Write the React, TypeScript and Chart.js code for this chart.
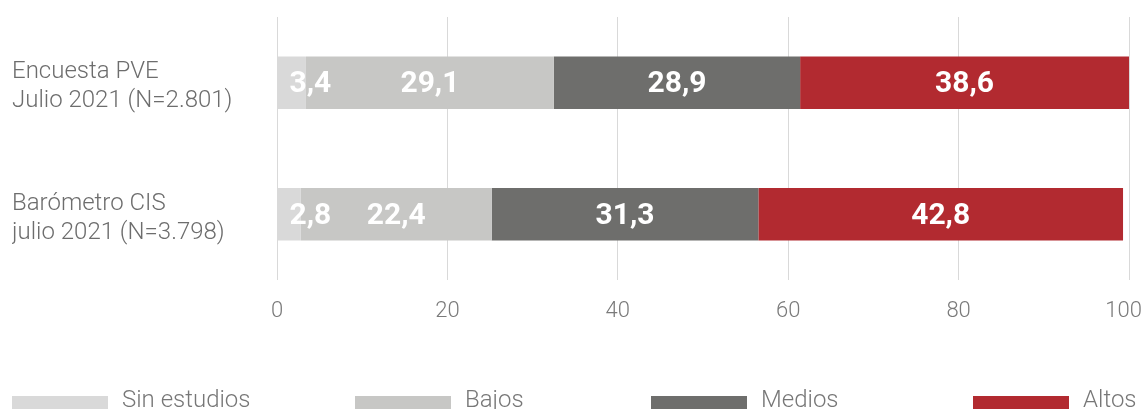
import React, { useEffect, useRef } from "react";
import { Chart, registerables } from "chart.js";

Chart.register(...registerables);

const categories: string[][] = [
  ["Encuesta PVE", "Julio 2021 (N=2.801)"],
  ["Barómetro CIS", "julio 2021 (N=3.798)"],
];
const seriesNames = ["Sin estudios", "Bajos", "Medios", "Altos"];
const sinEstudios = [3.4, 2.8];
const bajos = [29.1, 22.4];
const medios = [28.9, 31.3];
const altos = [38.6, 42.8];
const xTicks = [0, 20, 40, 60, 80, 100];

const colors = ["#d9d9d9", "#c7c7c5", "#6e6e6c", "#b22a30"];
const legendX = [12, 355, 651, 973];

const fmt = (v: number) => v.toFixed(1).replace(".", ",");

const segLabels = {
  id: "segLabels",
  afterDatasetsDraw(chart: any) {
    const ctx = chart.ctx;
    ctx.save();
    ctx.font = "bold 30px Roboto";
    ctx.fillStyle = "#ffffff";
    ctx.textAlign = "center";
    ctx.textBaseline = "middle";
    chart.data.datasets.forEach((ds: any, di: number) => {
      const meta = chart.getDatasetMeta(di);
      meta.data.forEach((bar: any, i: number) => {
        const { x, y, base } = bar.getProps(["x", "y", "base"], true);
        const text = fmt(ds.data[i]);
        const w = ctx.measureText(text).width;
        const left = Math.min(x, base);
        const right = Math.max(x, base);
        let cx = (left + right) / 2;
        cx = Math.max(cx, left + 12 + w / 2);
        ctx.fillText(text, cx, y + 2);
      });
    });
    ctx.restore();
  },
};

const customLegend = {
  id: "customLegend",
  afterDraw(chart: any) {
    const ctx = chart.ctx;
    ctx.save();
    ctx.font = "300 24px Roboto";
    ctx.textAlign = "left";
    ctx.textBaseline = "alphabetic";
    chart.data.datasets.forEach((ds: any, di: number) => {
      const x = legendX[di];
      ctx.fillStyle = ds.backgroundColor;
      ctx.fillRect(x, 396, 96, 14);
      ctx.fillStyle = "#777777";
      ctx.fillText(ds.label, x + 110, 407);
    });
    ctx.restore();
  },
};

export default function App() {
  const ref = useRef<HTMLCanvasElement | null>(null);
  useEffect(() => {
    if (!ref.current) return;
    const values = [sinEstudios, bajos, medios, altos];
    const chart = new Chart(ref.current, {
      type: "bar",
      data: {
        labels: categories,
        datasets: seriesNames.map((name, i) => ({
          label: name,
          data: values[i],
          backgroundColor: colors[i],
          borderWidth: 0,
          barPercentage: 0.8,
          categoryPercentage: 0.5,
        })),
      },
      options: {
        indexAxis: "y",
        responsive: false,
        animation: false,
        layout: { padding: { left: 12, right: 14, top: 17, bottom: 79 } },
        plugins: {
          legend: { display: false },
          tooltip: { enabled: false },
        },
        scales: {
          x: {
            stacked: true,
            min: 0,
            max: 100,
            afterBuildTicks: (scale: any) => {
              scale.ticks = xTicks.map((v) => ({ value: v }));
            },
            afterFit: (scale: any) => {
              scale.height = 50;
              scale.paddingLeft = 0;
              scale.paddingRight = 0;
            },
            grid: { color: "#d9d9d9", lineWidth: 1, drawTicks: false },
            border: { display: false },
            ticks: {
              padding: 18,
              color: "#7a7a7a",
              font: { family: "Roboto", size: 22, weight: "300" as any },
              callback: (v: any) => (v === 100 ? "100  " : String(v)),
            },
          },
          y: {
            stacked: true,
            afterFit: (scale: any) => {
              scale.width = 265;
              scale.paddingTop = 0;
              scale.paddingBottom = 0;
            },
            grid: { display: false, drawTicks: false },
            border: { display: false },
            ticks: {
              crossAlign: "far",
              labelOffset: 4,
              padding: 0,
              color: "#6d6d6d",
              font: { family: "Roboto", size: 24, weight: "300" as any, lineHeight: 1.2 },
            },
          },
        },
      },
      plugins: [segLabels, customLegend],
    });
    return () => chart.destroy();
  }, []);
  return (
    <div style={{ position: "fixed", left: 0, top: 0, width: 1143, height: 409, background: "#fff" }}>
      <canvas ref={ref} width={1143} height={409} style={{ display: "block", width: 1143, height: 409 }} />
    </div>
  );
}
